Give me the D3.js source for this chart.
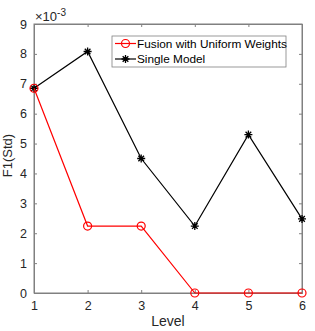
<!DOCTYPE html>
<html><head><meta charset="utf-8">
<script src="https://cdn.jsdelivr.net/npm/d3@7"></script>
<style>body{margin:0;background:#fff}svg{display:block}text{font-family:Arial,"Liberation Sans",sans-serif}</style>
</head><body><svg id="c" width="315" height="331"></svg>
<script>
const levels = [1,2,3,4,5,6];
const fusion = [6.85,2.24,2.24,0,0,0];
const single = [6.85,8.08,4.5,2.24,5.3,2.48];
const yTicks = [0,1,2,3,4,5,6,7,8,9];
const seriesNames = ["Fusion with Uniform Weights","Single Model"];

const svg = d3.select("#c");
const L=34,R=302,T=24,B=293;
const x = d3.scaleLinear().domain([1,6]).range([L,R]);
const y = d3.scaleLinear().domain([0,9]).range([B,T]);
const ax="#808080", tc="#262626";

const g = svg.append("g");
g.append("rect").attr("x",L).attr("y",T).attr("width",R-L).attr("height",B-T).attr("fill","none").attr("stroke",ax).attr("stroke-width",1);
const xa = g.append("g").attr("transform",`translate(0,${B})`).call(d3.axisBottom(x).tickValues(levels).tickSize(-3).tickPadding(8).tickFormat(d3.format("d")));
const ya = g.append("g").attr("transform",`translate(${L},0)`).call(d3.axisLeft(y).tickValues(yTicks).tickSize(-3).tickPadding(7).tickFormat(d3.format("d")));
const xt = g.append("g").attr("transform",`translate(0,${T})`).call(d3.axisTop(x).tickValues(levels).tickSize(-3).tickFormat(""));
const yr = g.append("g").attr("transform",`translate(${R},0)`).call(d3.axisRight(y).tickValues(yTicks).tickSize(-3).tickFormat(""));
[xa,ya,xt,yr].forEach(a=>{a.select(".domain").attr("stroke",ax);a.selectAll(".tick line").attr("stroke",ax);a.selectAll("text").attr("fill",tc).attr("font-size",12.5).attr("font-family","Arial, Liberation Sans, sans-serif");});

svg.append("text").attr("x",(L+R)/2).attr("y",326).attr("text-anchor","middle").attr("font-size",14).attr("fill",tc).text("Level");
svg.append("text").attr("transform",`translate(12,${(T+B)/2-3}) rotate(-90)`).attr("text-anchor","middle").attr("font-size",13).attr("fill",tc).text("F1(Std)");
const ex = svg.append("text").attr("x",L+1).attr("y",21).attr("font-size",13).attr("fill",tc);
ex.append("tspan").text("×10");
ex.append("tspan").attr("dy",-5).attr("font-size",10).text("-3");

const line = d3.line().x((d,i)=>x(levels[i])).y(d=>y(d));
function star(sel,cx,cy,r){
  const p=d3.path();
  for(let k=0;k<4;k++){const a=k*Math.PI/4;p.moveTo(cx-r*Math.cos(a),cy-r*Math.sin(a));p.lineTo(cx+r*Math.cos(a),cy+r*Math.sin(a));}
  sel.append("path").attr("d",p.toString()).attr("stroke","#000").attr("stroke-width",1.3);
}
svg.append("path").datum(single).attr("d",line).attr("fill","none").attr("stroke","#000").attr("stroke-width",1.2);
single.forEach((d,i)=>star(svg,x(levels[i]),y(d),4));
svg.append("path").datum(fusion).attr("d",line).attr("fill","none").attr("stroke","#ff0000").attr("stroke-width",1.2);
svg.selectAll("circle.f").data(fusion).enter().append("circle").attr("cx",(d,i)=>x(levels[i])).attr("cy",d=>y(d)).attr("r",4).attr("fill","none").attr("stroke","#ff0000").attr("stroke-width",1.2);

const lg = svg.append("g");
lg.append("rect").attr("x",112).attr("y",36).attr("width",174).attr("height",31).attr("fill","#fff").attr("stroke",ax).attr("stroke-width",0.8);
lg.append("line").attr("x1",115).attr("x2",136).attr("y1",43.5).attr("y2",43.5).attr("stroke","#ff0000").attr("stroke-width",1.2);
lg.append("circle").attr("cx",125.5).attr("cy",43.5).attr("r",4).attr("fill","none").attr("stroke","#ff0000").attr("stroke-width",1.2);
lg.append("line").attr("x1",115).attr("x2",136).attr("y1",59).attr("y2",59).attr("stroke","#000").attr("stroke-width",1.2);
star(lg,125.5,59,4);
lg.append("text").attr("x",137).attr("y",47.5).attr("font-size",11.8).attr("fill","#000").text(seriesNames[0]);
lg.append("text").attr("x",137).attr("y",63).attr("font-size",11.8).attr("fill","#000").text(seriesNames[1]);
</script></body></html>
